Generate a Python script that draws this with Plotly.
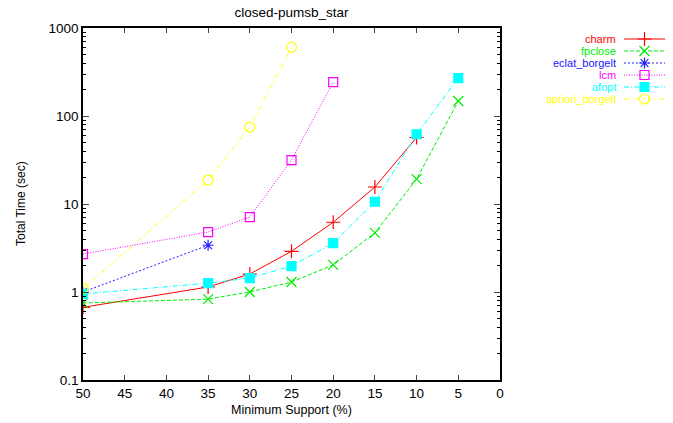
import plotly.graph_objects as go

support_charm = [50, 35, 30, 25, 20, 15, 10]
time_charm = [0.67, 1.14, 1.6, 2.9, 6.2, 15.6, 57]

support_fpclose = [50, 35, 30, 25, 20, 15, 10, 5]
time_fpclose = [0.75, 0.83, 1.0, 1.3, 2.03, 4.7, 19.2, 148]

support_eclat = [50, 35]
time_eclat = [1.0, 3.4]

support_lcm = [50, 35, 30, 25, 20]
time_lcm = [2.7, 4.8, 7.1, 31.6, 243]

support_afopt = [50, 35, 30, 25, 20, 15, 10, 5]
time_afopt = [0.95, 1.26, 1.44, 1.97, 3.6, 10.6, 62, 270]

support_apriori = [50, 35, 30, 25]
time_apriori = [1.1, 18.7, 75, 605]

x_ticks = [50, 45, 40, 35, 30, 25, 20, 15, 10, 5, 0]
y_ticks = [0.1, 1, 10, 100, 1000]
y_tick_labels = ["0.1", "1", "10", "100", "1000"]

series = [
    ("charm", support_charm, time_charm, "#ff0000", "solid", "cross-thin-open", 10),
    ("fpclose", support_fpclose, time_fpclose, "#00ee00", "4px,2px", "x-thin-open", 10),
    ("eclat_borgelt", support_eclat, time_eclat, "#2020ff", "2px,2px", "asterisk-open", 9),
    ("lcm", support_lcm, time_lcm, "#ff00ff", "1px,1.5px", "square-open", 9),
    ("afopt", support_afopt, time_afopt, "#00ffff", "5px,2px,1px,2px", "square", 9),
    ("apriori_borgelt", support_apriori, time_apriori, "#ffff00", "4px,2px,1px,2px,1px,2px", "circle-open", 10),
]

W, H = 673, 423
L, R, T, B = 83, 173, 28, 43
font = "Liberation Sans, Arial, sans-serif"

fig = go.Figure()
for name, xs, ys, color, dash, sym, size in series:
    fig.add_trace(go.Scatter(
        x=xs, y=ys, name=name, mode="lines+markers", showlegend=False,
        line=dict(color=color, width=1, dash=dash),
        marker=dict(symbol=sym, size=size, color=color, line=dict(color=color, width=1.2)),
    ))

# custom gnuplot-style key: text right-aligned, sample line + marker to its right
key_top = 39      # px from top of first row
key_step = 12     # px between rows
text_right = 617  # px
samp_x0, samp_x1 = 624, 665
for i, (name, xs, ys, color, dash, sym, size) in enumerate(series):
    ypx = key_top + i * key_step
    yp = 1 - ypx / H
    fig.add_annotation(x=text_right / W, y=yp, xref="paper", yref="paper",
                       text=name, showarrow=False, xanchor="right", yanchor="middle",
                       borderpad=0, font=dict(size=11, color=color, family=font))
    fig.add_trace(go.Scatter(
        x=[samp_x0, samp_x1], y=[ypx, ypx],
        xaxis="x2", yaxis="y2", mode="lines", showlegend=False, hoverinfo="skip",
        line=dict(color=color, width=1, dash=dash)))
    fig.add_trace(go.Scatter(
        x=[(samp_x0 + samp_x1) / 2], y=[ypx],
        xaxis="x2", yaxis="y2", mode="markers", showlegend=False, hoverinfo="skip",
        marker=dict(symbol=sym, size=size, color=color, line=dict(color=color, width=1.2))))

# axis titles placed like gnuplot
fig.add_annotation(x=(L + 500) / 2 / W, y=1 - 410 / H, xref="paper", yref="paper",
                   text="Minimum Support (%)", showarrow=False, xanchor="center",
                   yanchor="middle", font=dict(size=12.5, family=font, color="black"))
fig.add_annotation(x=21 / W, y=1 - 204 / H, xref="paper", yref="paper",
                   text="Total Time (sec)", showarrow=False, textangle=-90,
                   xanchor="center", yanchor="middle",
                   font=dict(size=12, family=font, color="black"))

fig.update_layout(
    width=W, height=H,
    margin=dict(l=0, r=0, t=0, b=0),
    paper_bgcolor="white", plot_bgcolor="rgba(0,0,0,0)",
    font=dict(family=font, size=13, color="black"),
    title=dict(text="closed-pumsb_star", x=(L + 500) / 2 / W, xanchor="center",
               y=1 - 12 / H, yanchor="middle", font=dict(size=13.5)),
    showlegend=False,
    xaxis2=dict(domain=[0, 1], range=[0, W], visible=False, fixedrange=True, anchor="y2"),
    yaxis2=dict(domain=[0, 1], range=[H, 0], visible=False, fixedrange=True, anchor="x2"),
)

fig.update_layout(xaxis=dict(
    domain=[L / W, 500 / W], anchor="y",
    range=[50, 0], tickvals=x_ticks, ticks="inside", ticklen=5,
    showline=True, linecolor="black", linewidth=1.5, mirror="ticks",
    showgrid=False, zeroline=False, automargin=False,
    tickfont=dict(size=13.5),
))
fig.update_layout(yaxis=dict(
    domain=[B / H, 1 - T / H], anchor="x",
    type="log", range=[-1, 3], tickvals=y_ticks, ticktext=y_tick_labels,
    ticks="inside", ticklen=6,
    minor=dict(ticks="inside", ticklen=3, dtick="D1", tickcolor="black", showgrid=False),
    showline=True, linecolor="black", linewidth=1.5, mirror="ticks",
    showgrid=False, zeroline=False, automargin=False,
    tickfont=dict(size=13.5),
))
fig.write_html("out.html", config={"displayModeBar": False},
               post_script="document.body.style.margin='0';")
